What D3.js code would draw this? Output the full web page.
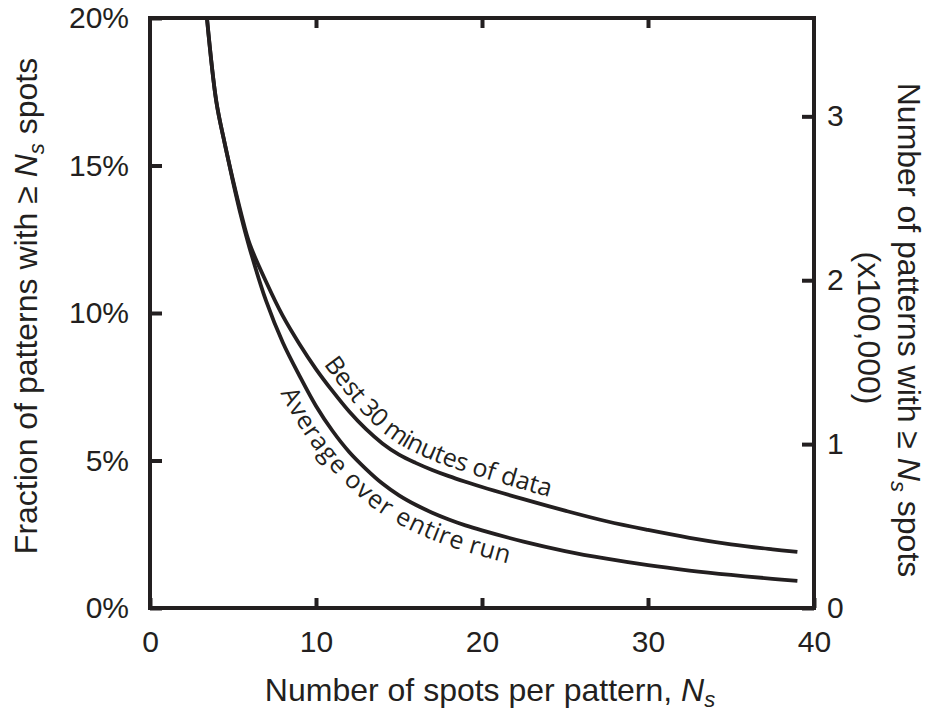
<!DOCTYPE html>
<html>
<head>
<meta charset="utf-8">
<script src="https://cdn.jsdelivr.net/npm/d3@7"></script>
<style>
  body { margin: 0; background: #fff; }
  svg { display: block; }
  .axis path, .axis line { stroke: #231f20; }
  .axis text { fill: #231f20; font-family: "Liberation Sans", Arial, sans-serif; font-size: 30px; }
  .title { fill: #231f20; font-family: "Liberation Sans", Arial, sans-serif; font-size: 32px; }
  .curve-label { fill: #231f20; font-family: "Open Sans", sans-serif; font-size: 25px; }
</style>
</head>
<body>
<svg id="chart" width="931" height="713"></svg>
<script>
'use strict';

// spots per pattern (x) and fraction (%)
var spots = [3.43, 4, 4.5, 5, 5.5, 6, 7, 8, 9, 10, 11, 12, 13, 14, 15, 16, 17, 18, 19, 20,
             22.5, 25, 27.5, 30, 32.5, 35, 37.5, 39];
var fracBest = [20, 17.15, 15.75, 14.5, 13.35, 12.35, 11.05, 9.9, 8.95, 8.1, 7.35, 6.66, 6.07, 5.58, 5.2,
                4.92, 4.68, 4.47, 4.28, 4.1, 3.69, 3.3, 2.94, 2.645, 2.38, 2.16, 1.99, 1.9];
var fracAvg  = [20, 17.15, 15.75, 14.45, 13.25, 12.2, 10.4, 9.0, 7.88, 6.85, 6.0, 5.29, 4.72, 4.22, 3.82,
                3.5, 3.23, 3.0, 2.8, 2.63, 2.25, 1.93, 1.67, 1.45, 1.27, 1.12, 0.99, 0.92];

var xTicks = [0, 10, 20, 30, 40];
var yTicks = [0, 5, 10, 15, 20];
var rightTicks = [0, 1, 2, 3];

var svg = d3.select('#chart');
var ink = '#231f20';

var plotLeft = 150, plotRight = 814, plotTop = 18, plotBottom = 608;

var x = d3.scaleLinear().domain([0, 40]).range([plotLeft, plotRight]);
var y = d3.scaleLinear().domain([0, 20]).range([plotBottom, plotTop]);
// right axis: number of patterns (x100,000), 20% <-> 3.6
var yRight = d3.scaleLinear().domain([0, 3.6]).range([plotBottom, plotTop]);

// clip so curves stop at the top frame
svg.append('defs').append('clipPath').attr('id', 'plotClip')
  .append('rect')
  .attr('x', plotLeft).attr('y', plotTop)
  .attr('width', plotRight - plotLeft).attr('height', plotBottom - plotTop);

var line = d3.line()
  .x(function(d){ return x(d[0]); })
  .y(function(d){ return y(d[1]); })
  .curve(d3.curveCatmullRom.alpha(0.5));

var bestPts = d3.zip(spots, fracBest);
var avgPts = d3.zip(spots, fracAvg);

var curves = svg.append('g').attr('clip-path', 'url(#plotClip)');

var bestPath = curves.append('path')
  .attr('id', 'bestCurve')
  .attr('d', line(bestPts))
  .attr('fill', 'none')
  .attr('stroke', ink)
  .attr('stroke-width', 3.8);

var avgPath = curves.append('path')
  .attr('id', 'avgCurve')
  .attr('d', line(avgPts))
  .attr('fill', 'none')
  .attr('stroke', ink)
  .attr('stroke-width', 3.8);

// axes (ticks point inward)
function styleAxis(g){
  g.attr('class', 'axis');
  g.select('.domain').remove();
  g.selectAll('.tick line').attr('stroke-width', 4);
}

svg.append('g')
  .attr('transform', 'translate(0,' + plotBottom + ')')
  .call(d3.axisBottom(x).tickValues(xTicks).tickSize(-10).tickPadding(23).tickFormat(d3.format('d')))
  .call(styleAxis);

svg.append('g')
  .attr('transform', 'translate(0,' + plotTop + ')')
  .call(d3.axisTop(x).tickValues([10, 20, 30]).tickSize(-10).tickFormat(''))
  .call(styleAxis);

svg.append('g')
  .attr('transform', 'translate(' + plotLeft + ',0)')
  .call(d3.axisLeft(y).tickValues(yTicks).tickSize(-12).tickPadding(21).tickFormat(function(d){ return d + '%'; }))
  .call(styleAxis);

svg.append('g')
  .attr('transform', 'translate(' + plotRight + ',0)')
  .call(d3.axisRight(yRight).tickValues(rightTicks).tickSize(-12).tickPadding(13).tickFormat(d3.format('d')))
  .call(styleAxis);

// frame
svg.append('rect')
  .attr('x', plotLeft).attr('y', plotTop)
  .attr('width', plotRight - plotLeft).attr('height', plotBottom - plotTop)
  .attr('fill', 'none')
  .attr('stroke', ink)
  .attr('stroke-width', 4);

// axis titles
function addNs(t){
  t.append('tspan').attr('font-style', 'italic').text('N');
  t.append('tspan').attr('font-style', 'italic').attr('font-size', '22px').attr('dy', 7).text('s');
  t.append('tspan').attr('dy', -7).text(' spots');
}

var xt = svg.append('text').attr('class', 'title')
  .attr('x', 490).attr('y', 701).attr('text-anchor', 'middle');
xt.append('tspan').text('Number of spots per pattern, ');
xt.append('tspan').attr('font-style', 'italic').text('N');
xt.append('tspan').attr('font-style', 'italic').attr('font-size', '22px').attr('dy', 6).text('s');

var lt = svg.append('text').attr('class', 'title')
  .attr('text-anchor', 'middle')
  .attr('transform', 'translate(37,306) rotate(-90)');
lt.append('tspan').text('Fraction of patterns with \u2265 ');
addNs(lt);

var rt = svg.append('text').attr('class', 'title')
  .attr('text-anchor', 'middle')
  .attr('transform', 'translate(898,330) rotate(90)');
rt.append('tspan').text('Number of patterns with \u2265 ');
addNs(rt);

svg.append('text').attr('class', 'title')
  .attr('text-anchor', 'middle')
  .attr('transform', 'translate(858,328) rotate(90)')
  .text('(x100,000)');

// find length along a path where it reaches a given x
function lengthAtX(node, xTarget){
  var total = node.getTotalLength();
  for (var l = 0; l <= total; l += 1){
    if (node.getPointAtLength(l).x >= xTarget) return l;
  }
  return total;
}

svg.append('text').attr('class', 'curve-label')
  .attr('dy', -9)
  .append('textPath')
  .attr('href', '#bestCurve')
  .attr('startOffset', lengthAtX(bestPath.node(), 316))
  .text('Best 30 minutes of data');

svg.append('text').attr('class', 'curve-label')
  .attr('dy', 25)
  .append('textPath')
  .attr('href', '#avgCurve')
  .attr('startOffset', lengthAtX(avgPath.node(), 302))
  .text('Average over entire run');
</script>
</body>
</html>
